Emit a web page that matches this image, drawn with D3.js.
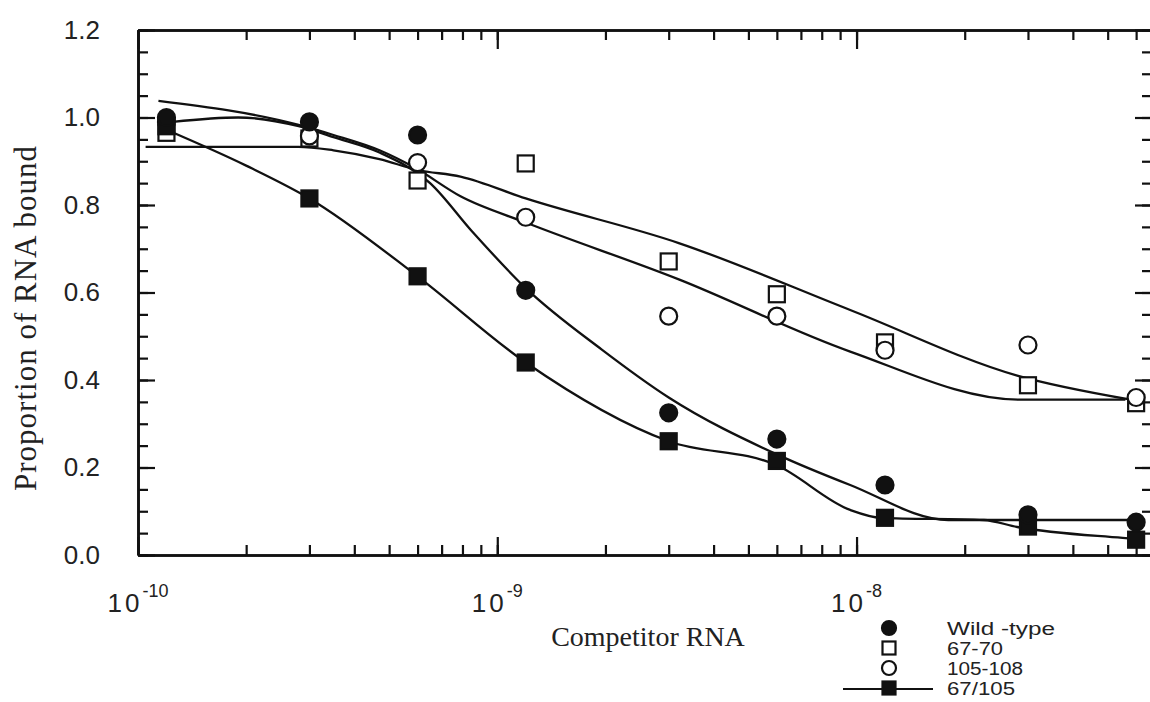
<!DOCTYPE html>
<html><head><meta charset="utf-8">
<script src="https://cdn.jsdelivr.net/npm/d3@7"></script>
<style>body{margin:0;background:#fff;overflow:hidden}</style>
</head><body>
<svg id="c" width="1150" height="702"></svg>
<script>
// ---- data ----
const concentrations = [1.2e-10, 3e-10, 6e-10, 1.2e-9, 3e-9, 6e-9, 1.2e-8, 3e-8, 6e-8];
const wildType  = [1.00, 0.99, 0.96, 0.605, 0.325, 0.265, 0.16, 0.092, 0.075];
const mut6770   = [0.965, 0.952, 0.856, 0.895, 0.671, 0.596, 0.486, 0.388, 0.347];
const mut105108 = [0.99, 0.958, 0.897, 0.772, 0.546, 0.546, 0.468, 0.48, 0.36];
const mut67105  = [0.98, 0.815, 0.637, 0.44, 0.26, 0.215, 0.085, 0.065, 0.035];

// fitted curves
const fitWildX = [1.25e-10, 1.9e-10, 2.8e-10, 3.5e-10, 4.7e-10, 6.5e-10, 8.5e-10, 1.2e-9, 1.95e-9, 3.0e-9, 6.0e-9, 9.6e-9, 1.8e-8, 3e-8, 6.3e-8];
const fitWildY = [0.99, 1.0, 0.98, 0.955, 0.92, 0.85, 0.74, 0.61, 0.47, 0.36, 0.23, 0.16, 0.08, 0.08, 0.08];
const fit6770X = [1.05e-10, 2.8e-10, 3.5e-10, 4.7e-10, 6e-10, 7.9e-10, 1.2e-9, 3.2e-9, 9.6e-9, 2.8e-8, 5.8e-8];
const fit6770Y = [0.933, 0.933, 0.925, 0.905, 0.88, 0.865, 0.815, 0.713, 0.56, 0.41, 0.355];
const fit105X  = [1.14e-10, 2.8e-10, 3.5e-10, 4.7e-10, 5.9e-10, 7.9e-10, 1.2e-9, 3.2e-9, 9.6e-9, 2.85e-8, 5.6e-8];
const fit105Y  = [1.038, 0.983, 0.96, 0.925, 0.885, 0.82, 0.76, 0.63, 0.465, 0.355, 0.355];
const fit67105X = [1.2e-10, 2e-10, 3e-10, 6e-10, 1.2e-9, 3e-9, 6e-9, 9.6e-9, 1.17e-8, 2.26e-8, 2.8e-8, 5.5e-8, 6.3e-8];
const fit67105Y = [0.972, 0.89, 0.815, 0.637, 0.44, 0.26, 0.205, 0.103, 0.085, 0.08, 0.064, 0.039, 0.035];

const yTicksMajor = [0, 0.2, 0.4, 0.6, 0.8, 1.0, 1.2];
const xDecades = [1e-10, 1e-9, 1e-8];
const xDecadeExp = ["-10", "-9", "-8"];
const legendLabels = ["Wild -type", "67-70", "105-108", "67/105"];
const legendWidths = [108, 56, 76, 68];
const xTitle = "Competitor RNA";
const yTitle = "Proportion of RNA bound";

// ---- drawing ----
const svg = d3.select("#c");
svg.append("rect").attr("width",1150).attr("height",702).attr("fill","#fff");
const x = d3.scaleLog().domain([1e-10, 6.6e-8]).range([138, 1151]);
const y = d3.scaleLinear().domain([0, 1.2]).range([555, 30]);
const ink = "#111";

function styleAxis(g){
  g.select(".domain").attr("stroke", ink).attr("stroke-width", 2.6);
  g.selectAll(".tick line").attr("stroke", ink).attr("stroke-width", 2.2);
}
const yMinor = d3.range(0, 1.2001, 0.05);

// left axis
svg.append("g").attr("transform","translate(138,0)")
  .call(d3.axisLeft(y).tickValues(yMinor).tickSizeInner(-10).tickSizeOuter(0).tickFormat(""))
  .call(styleAxis);
svg.append("g").attr("transform","translate(138,0)")
  .call(d3.axisLeft(y).tickValues(yTicksMajor).tickSizeInner(-17).tickSizeOuter(0).tickPadding(38).tickFormat(d3.format(".1f")))
  .call(styleAxis)
  .call(g => g.selectAll("text").attr("font-family","'Liberation Sans', Arial, sans-serif")
        .attr("font-size",26).attr("fill","#222"));
// right axis (ticks only visible)
svg.append("g").attr("transform","translate(1151,0)")
  .call(d3.axisRight(y).tickValues(yMinor).tickSizeInner(-9).tickSizeOuter(0).tickFormat(""))
  .call(styleAxis);
svg.append("g").attr("transform","translate(1151,0)")
  .call(d3.axisRight(y).tickValues(yTicksMajor).tickSizeInner(-16).tickSizeOuter(0).tickFormat(""))
  .call(styleAxis);
// bottom axis
svg.append("g").attr("transform","translate(0,555)")
  .call(d3.axisBottom(x).tickSizeInner(-10).tickSizeOuter(0).tickFormat(""))
  .call(styleAxis);
svg.append("g").attr("transform","translate(0,555)")
  .call(d3.axisBottom(x).tickValues(xDecades).tickSizeInner(-18).tickSizeOuter(0).tickFormat(""))
  .call(styleAxis);
// top axis
svg.append("g").attr("transform","translate(0,30)")
  .call(d3.axisTop(x).tickSizeInner(-10).tickSizeOuter(0).tickFormat(""))
  .call(styleAxis);
svg.append("g").attr("transform","translate(0,30)")
  .call(d3.axisTop(x).tickValues(xDecades).tickSizeInner(-19).tickSizeOuter(0).tickFormat(""))
  .call(styleAxis);

// x decade labels with superscripts
const xl = svg.append("g").attr("font-family","'Liberation Sans', Arial, sans-serif").attr("fill","#222");
xDecades.forEach((d,i)=>{
  const t = xl.append("text").attr("x", x(d)).attr("y", 612).attr("text-anchor","middle");
  t.append("tspan").attr("font-size",26).attr("letter-spacing",3).text("10");
  t.append("tspan").attr("font-size",18).attr("dy",-15).text(xDecadeExp[i]);
});

// titles
svg.append("text").attr("x", 648).attr("y", 646).attr("text-anchor","middle")
  .attr("font-family","'Liberation Serif', 'Times New Roman', serif").attr("font-size",28).attr("fill","#222")
  .text(xTitle);
svg.append("text").attr("transform","translate(36,318) rotate(-90)").attr("text-anchor","middle")
  .attr("font-family","'Liberation Serif', 'Times New Roman', serif").attr("font-size",31).attr("letter-spacing",1).attr("fill","#222")
  .text(yTitle);

// fitted curves
const line = d3.line().x(d=>x(d[0])).y(d=>y(d[1])).curve(d3.curveMonotoneX);
const fits = [[fitWildX,fitWildY],[fit6770X,fit6770Y],[fit105X,fit105Y],[fit67105X,fit67105Y]];
fits.forEach(([fx,fy])=>{
  svg.append("path").datum(fx.map((v,i)=>[v,fy[i]])).attr("d",line)
    .attr("fill","none").attr("stroke",ink).attr("stroke-width",2.3);
});

// markers
const R = 8.5, S = 16;
function drawCircle(g, cx, cy, filled, r){
  g.append("circle").attr("cx",cx).attr("cy",cy).attr("r",r||R)
    .attr("fill", filled ? ink : "#fff").attr("stroke", ink).attr("stroke-width", 2.2);
}
function drawSquare(g, cx, cy, filled, s){
  s = s || S;
  g.append("rect").attr("x",cx-s/2).attr("y",cy-s/2).attr("width",s).attr("height",s)
    .attr("fill", filled ? ink : "#fff").attr("stroke", ink).attr("stroke-width", 2.2);
}
const mk = svg.append("g");
concentrations.forEach((c,i)=>{ drawSquare(mk, x(c), y(mut6770[i]), false); });
concentrations.forEach((c,i)=>{ drawCircle(mk, x(c), y(mut105108[i]), false); });
concentrations.forEach((c,i)=>{ drawSquare(mk, x(c), y(mut67105[i]), true); });
concentrations.forEach((c,i)=>{ drawCircle(mk, x(c), y(wildType[i]), true); });

// legend
const lg = svg.append("g");
const legY = [628, 648, 668, 688];
const legX = 889;
drawCircle(lg, legX, legY[0], true, 7);
drawSquare(lg, legX, legY[1], false, 13);
drawCircle(lg, legX, legY[2], false, 7);
lg.append("line").attr("x1",843).attr("x2",933).attr("y1",legY[3]+1).attr("y2",legY[3]+1)
  .attr("stroke",ink).attr("stroke-width",2);
drawSquare(lg, legX, legY[3], true, 13);
legendLabels.forEach((t,i)=>{
  lg.append("text").attr("x",947).attr("y",legY[i]+7)
    .attr("font-family","'Liberation Sans', Arial, sans-serif").attr("font-size",18).attr("fill","#222")
    .attr("textLength", legendWidths[i]).attr("lengthAdjust","spacingAndGlyphs")
    .text(t);
});
</script>
</body></html>
